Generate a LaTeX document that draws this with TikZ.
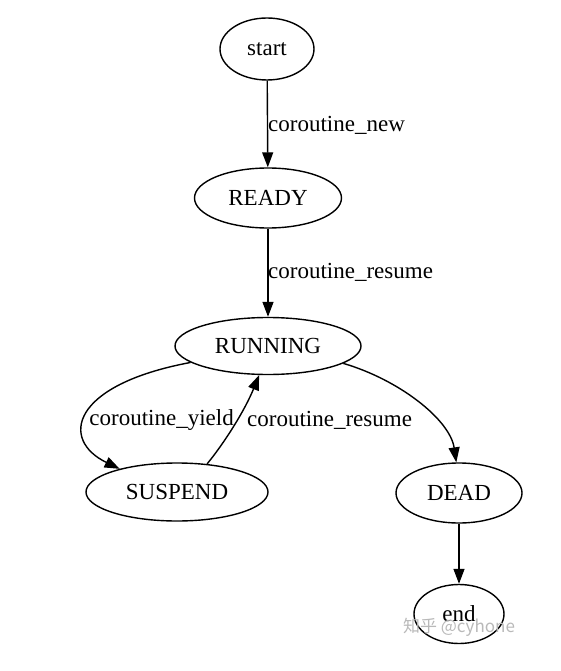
\documentclass[tikz,border=0pt]{standalone}
\usepackage{fontspec}
\setmainfont{Liberation Serif}
\newfontfamily\cjkwm{Noto Sans CJK SC}
\usetikzlibrary{shapes.geometric,arrows.meta}
\begin{document}
\begin{tikzpicture}[x=1pt,y=-1pt,
  state/.style={draw,ellipse,inner sep=0pt,line width=1.4pt,font=\fontsize{23}{27}\selectfont},
  lbl/.style={font=\fontsize{23}{27}\selectfont,inner sep=1pt},
  arr/.style={draw,line width=1.4pt,-{Triangle[length=15pt,width=11pt]}}]
\useasboundingbox (0,0) rectangle (560,671);
\node[state,minimum width=94pt,minimum height=62pt] (start) at (267,49) {start};
\node[state,minimum width=147pt,minimum height=60pt] (ready) at (268,198) {READY};
\node[state,minimum width=186pt,minimum height=57pt] (run) at (268,346) {RUNNING};
\node[state,minimum width=182pt,minimum height=58pt] (sus) at (177,492) {SUSPEND};
\node[state,minimum width=126pt,minimum height=60pt] (dead) at (459,493) {DEAD};
\node[state,minimum width=90pt,minimum height=59pt] (end) at (459,614) {end};
\draw[arr] (start) -- (ready);
\node[lbl,anchor=west] (l1) at (267,125) {coroutine\_new};
\draw[arr] (ready) -- (run);
\node[lbl,anchor=west] (l2) at (267,272) {coroutine\_resume};
\draw[arr] (run.192) .. controls (70,385) and (60,440) .. (sus.158);
\node[lbl,anchor=east] (l3) at (235,420) {coroutine\_yield};
\draw[arr] (sus.43) .. controls (225,442) and (245,410) .. (run.253);
\node[lbl,anchor=west] (l4) at (246,420) {coroutine\_resume};
\draw[arr] (run.347) .. controls (400,380) and (450,420) .. (dead.95);
\draw[arr] (dead) -- (end);
\node[font=\cjkwm\fontsize{17}{20}\selectfont,text=gray!55,inner sep=0pt] (wm) at (459,627) {知乎 @cyhone};
\end{tikzpicture}
\end{document}
